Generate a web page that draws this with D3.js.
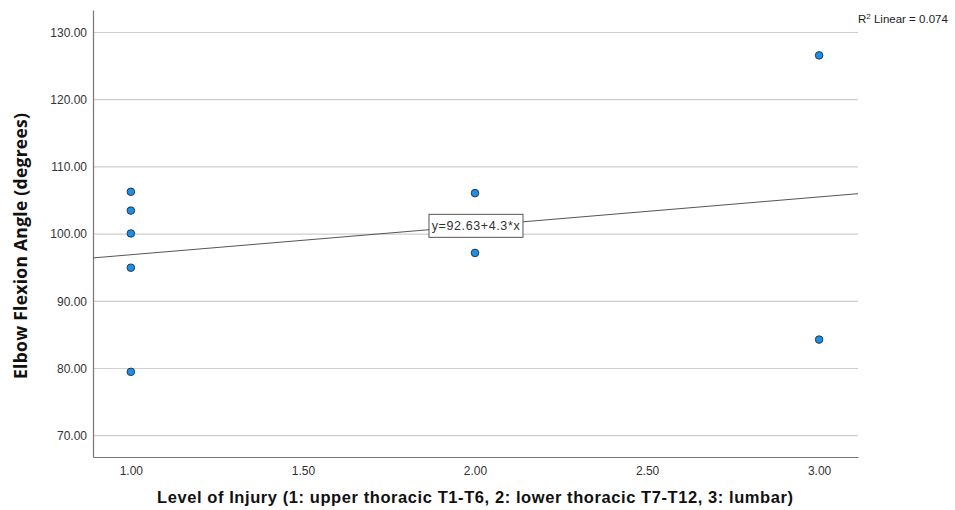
<!DOCTYPE html>
<html><head><meta charset="utf-8">
<script src="https://cdn.jsdelivr.net/npm/d3@7"></script>
<style>body{margin:0;background:#fff}svg{display:block}</style>
</head><body>
<script>
const levels = [1,1,1,1,1,2,2,3,3];
const angles = [106.3,103.5,100.1,95.0,79.5,106.1,97.2,126.6,84.3];
const yTicks = [70,80,90,100,110,120,130];
const xTicks = [1.0,1.5,2.0,2.5,3.0];
const fitIntercept = 92.63, fitSlope = 4.3;
const fitLabel = "y=92.63+4.3*x";
const r2Label = "0.074";

const W=955,H=510;
const m={left:93,right:97,top:10,bottom:53};
const svg=d3.select("body").append("svg").attr("width",W).attr("height",H);
const x=d3.scaleLinear().domain([0.89,3.113]).range([m.left,W-m.right]);
const y=d3.scaleLinear().domain([66.83,133.35]).range([H-m.bottom,m.top]);
const font="Arial, 'Liberation Sans', sans-serif";

function fit(sel,target){
  const n=sel.text().length;
  const w=sel.node().getComputedTextLength();
  sel.attr("letter-spacing",((target-w)/(n-1)).toFixed(3));
}

// gridlines
svg.append("g").selectAll("line").data(yTicks).join("line")
  .attr("x1",m.left).attr("x2",W-m.right)
  .attr("y1",d=>y(d)).attr("y2",d=>y(d))
  .attr("stroke","#cfcfcf").attr("stroke-width",1.2);

// axes
const ya=svg.append("g").attr("transform",`translate(${m.left},0)`)
  .call(d3.axisLeft(y).tickValues(yTicks).tickFormat(d3.format(".2f")).tickSize(0).tickPadding(6));
ya.select(".domain").attr("stroke","#777").attr("stroke-width",1.2);
ya.selectAll("text").attr("font-family",font).attr("font-size",12).attr("fill","#333");
const xa=svg.append("g").attr("transform",`translate(0,${H-m.bottom})`)
  .call(d3.axisBottom(x).tickValues(xTicks).tickFormat(d3.format(".2f")).tickSize(0).tickPadding(9));
xa.select(".domain").attr("stroke","#777").attr("stroke-width",1.2);
xa.selectAll("text").attr("font-family",font).attr("font-size",12).attr("fill","#333");

// fit line
const xd=x.domain();
svg.append("line")
  .attr("x1",x(xd[0])).attr("y1",y(fitIntercept+fitSlope*xd[0]))
  .attr("x2",x(xd[1])).attr("y2",y(fitIntercept+fitSlope*xd[1]))
  .attr("stroke","#555").attr("stroke-width",1);

// points
svg.append("g").selectAll("circle").data(levels.map((l,i)=>[l,angles[i]])).join("circle")
  .attr("cx",d=>x(d[0])).attr("cy",d=>y(d[1])).attr("r",3.8)
  .attr("fill","#1f8fe3").attr("stroke","#1a2e45").attr("stroke-width",0.9);

// fit label box
const lx=x(2.0)+1, ly=y(fitIntercept+fitSlope*2.0)+0;
const lg=svg.append("g");
const lt=lg.append("text").attr("x",lx).attr("y",ly+4.5).attr("text-anchor","middle")
  .attr("font-family",font).attr("font-size",12.5).attr("fill","#333").text(fitLabel);
fit(lt,88);
lg.insert("rect","text").attr("x",x(2.0)+1-47).attr("y",ly-11.5).attr("width",94).attr("height",23)
  .attr("fill","#fff").attr("stroke","#555").attr("stroke-width",1);

// R2 label
const rt=svg.append("text").attr("x",W-m.right).attr("y",23).attr("font-family",font).attr("font-size",11.5).attr("fill","#222");
rt.append("tspan").text("R");
rt.append("tspan").attr("font-size",8).attr("dy",-4).text("2");
rt.append("tspan").attr("dy",4).text(" Linear = "+r2Label);

// axis titles
const xt=svg.append("text").attr("x",157).attr("y",503)
  .attr("font-family",font).attr("font-weight","bold").attr("font-size",16.5).attr("fill","#111")
  .text("Level of Injury (1: upper thoracic T1-T6, 2: lower thoracic T7-T12, 3: lumbar)");
fit(xt,636);
const yt=svg.append("text").attr("transform",`translate(27,379) rotate(-90)`)
  .attr("font-family","'Open Sans', sans-serif").attr("font-weight","bold").attr("font-size",17.5).attr("fill","#111")
  .text("Elbow Flexion Angle (degrees)");
fit(yt,266);
</script>
</body></html>
